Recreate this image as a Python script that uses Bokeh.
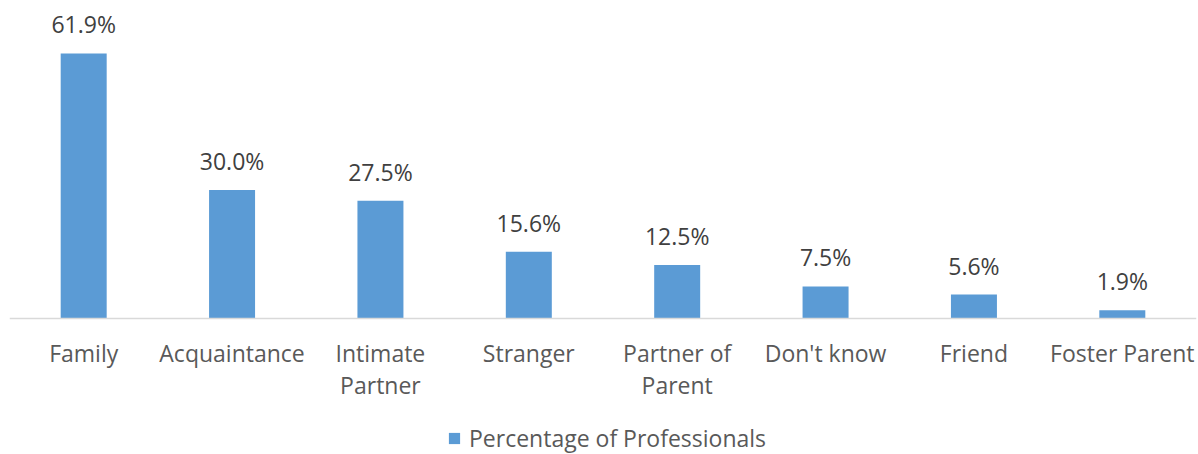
import json
from bokeh.plotting import figure
from bokeh.models import (FactorRange, Range1d, ColumnDataSource, LabelSet, Legend,
                          LegendItem, CategoricalAxis, CustomJSTickFormatter)
from bokeh.core.properties import value
from bokeh.embed import file_html
from bokeh.resources import INLINE

categories = ["Family", "Acquaintance", "Intimate Partner", "Stranger",
              "Partner of Parent", "Don't know", "Friend", "Foster Parent"]
values = [61.9, 30.0, 27.5, 15.6, 12.5, 7.5, 5.6, 1.9]
tick_line1 = {"Intimate Partner": "Intimate", "Partner of Parent": "Partner of"}
tick_line2 = {"Intimate Partner": "Partner", "Partner of Parent": "Parent"}
series_name = "Percentage of Professionals"

FONT = "Open Sans"
TEXT = "#595959"
BAR = "#5B9BD5"
FS = "23px"

src = ColumnDataSource(dict(cat=categories, val=values,
                            lab=[f"{v:.1f}%" for v in values]))

# frame spans the whole visible height; value 0 sits 310px below the top of the frame
PX_PER_UNIT = 310 / 72.4
p = figure(x_range=FactorRange(*categories, range_padding=0),
           y_range=Range1d(-136 / PX_PER_UNIT, 72.4),
           frame_width=1187, frame_height=446,
           output_backend="svg", toolbar_location=None,
           min_border_left=9, min_border_right=2, min_border_top=8, min_border_bottom=0)
p.outline_line_color = None
p.xgrid.visible = False
p.ygrid.visible = False
p.yaxis.visible = False

r = p.vbar(x="cat", top="val", width=0.31, source=src, fill_color=BAR, line_color=None)

labels = LabelSet(x="cat", y="val", text="lab", source=src, y_offset=13,
                  text_align="center", text_baseline="bottom",
                  text_font=value(FONT), text_font_size=value(FS), text_color="#404040")
p.add_layout(labels)

def style(ax, mapping, keep, fs=FS):
    ax.major_tick_line_color = None
    ax.minor_tick_line_color = None
    ax.major_tick_out = 0
    ax.major_tick_in = 0
    ax.major_label_text_font = FONT
    ax.major_label_text_font_size = fs
    ax.major_label_text_color = TEXT
    fallback = "tick" if keep else "' '"
    ax.formatter = CustomJSTickFormatter(
        code=f"const m = {json.dumps(mapping)}; return (tick in m) ? m[tick] : {fallback};")

ax = p.xaxis[0]
style(ax, tick_line1, True)
ax.fixed_location = 0
ax.axis_line_color = "#D9D9D9"
ax.axis_line_width = 1.5
ax.major_label_standoff = 18

ax2 = CategoricalAxis(fixed_location=0)
style(ax2, tick_line2, False)
ax2.axis_line_color = None
ax2.major_label_standoff = 50
p.add_layout(ax2, "below")

legend = Legend(items=[LegendItem(label=series_name, renderers=[r])],
                location=(438, 0), orientation="horizontal",
                label_text_font=FONT, label_text_font_size=FS,
                label_text_color=TEXT, glyph_width=14, glyph_height=14,
                label_standoff=8, padding=0, margin=0, border_line_color=None,
                background_fill_alpha=0, spacing=0)
p.add_layout(legend, "center")

open("out.html", "w").write(file_html(p, INLINE))
